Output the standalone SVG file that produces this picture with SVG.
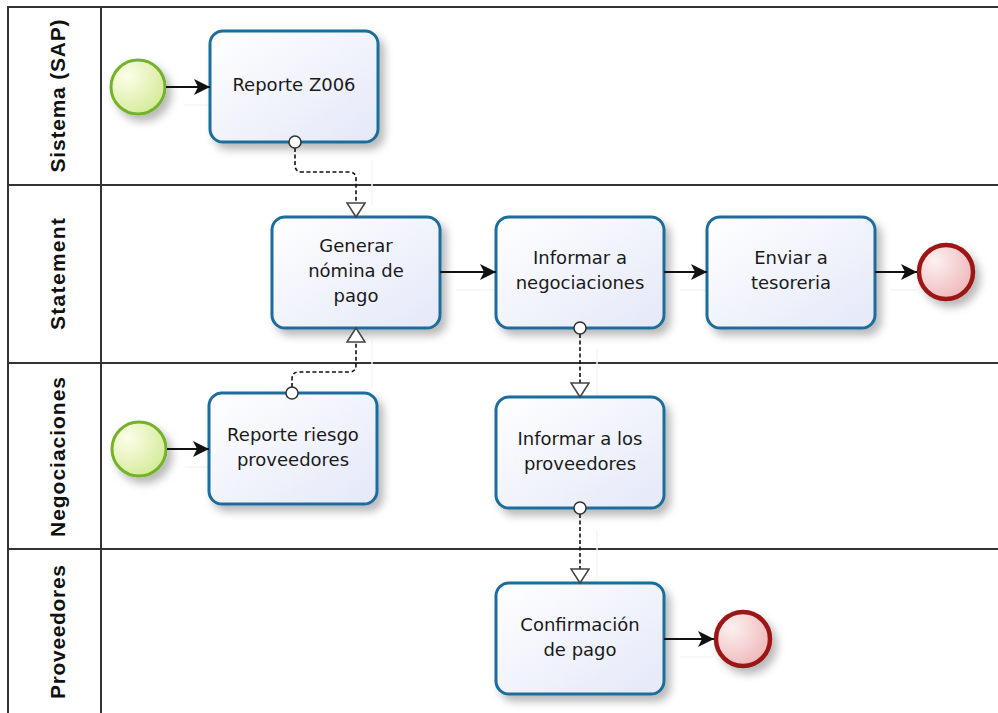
<svg xmlns="http://www.w3.org/2000/svg" width="998" height="713" viewBox="0 0 998 713">
  <defs>
    <style>
      .lane { fill: none; stroke: #333; stroke-width: 2; }
      .lane-label { font-family: "Liberation Sans", Arial, sans-serif; font-weight: bold; font-size: 21px; fill: #111; text-anchor: middle; }
      .task rect { fill: url(#taskFill); stroke: #1d6d9c; stroke-width: 3; }
      .task text { font-family: "DejaVu Sans", Verdana, sans-serif; font-size: 18px; fill: #1a1a1a; text-anchor: middle; }
      .start circle { fill: url(#startFill); stroke: #74b22c; stroke-width: 3; }
      .end circle { fill: url(#endFill); stroke: #9c1515; stroke-width: 4.5; }
      .seq { fill: none; stroke: #111; stroke-width: 1.8; marker-end: url(#seqArrow); }
      .msg { fill: none; stroke: #111; stroke-width: 1.6; stroke-dasharray: 4 2.5; marker-end: url(#msgArrow); }
      .msg-src { fill: #fff; stroke: #333; stroke-width: 1.5; }
      .ghost { fill: none; stroke: #f4f4f4; stroke-width: 1.5; }
    </style>
    <linearGradient id="taskFill" x1="0" y1="0" x2="1" y2="1">
      <stop offset="0" stop-color="#ffffff"/>
      <stop offset="1" stop-color="#e4e8f8"/>
    </linearGradient>
    <radialGradient id="startFill" cx="0.3" cy="0.3" r="0.8">
      <stop offset="0" stop-color="#fcfee8"/>
      <stop offset="1" stop-color="#d3ea96"/>
    </radialGradient>
    <radialGradient id="endFill" cx="0.3" cy="0.3" r="0.8">
      <stop offset="0" stop-color="#fdf0f0"/>
      <stop offset="1" stop-color="#eeb6b8"/>
    </radialGradient>
    <filter id="shadow" x="-20%" y="-20%" width="150%" height="150%">
      <feDropShadow dx="5" dy="6" stdDeviation="4" flood-color="#000" flood-opacity="0.28"/>
    </filter>
    <marker id="seqArrow" markerUnits="userSpaceOnUse" markerWidth="18" markerHeight="18" refX="16" refY="8" orient="auto">
      <path d="M0,0 L16,8 L0,16 L4,8 Z" fill="#111"/>
    </marker>
    <marker id="msgArrow" markerUnits="userSpaceOnUse" markerWidth="22" markerHeight="22" refX="15" refY="10" orient="auto">
      <path d="M1,1 L15,10 L1,19 Z" fill="#fff" stroke="#444" stroke-width="1.5"/>
    </marker>
  </defs>

  <rect x="0" y="0" width="998" height="713" fill="#fff"/>

  <!-- pool and lanes -->
  <g id="lanes">
    <path class="lane" d="M8,715 L8,7 L998,7"/>
    <line class="lane" x1="101" y1="7" x2="101" y2="715"/>
    <line class="lane" x1="8" y1="185" x2="998" y2="185"/>
    <line class="lane" x1="8" y1="363" x2="998" y2="363"/>
    <line class="lane" x1="8" y1="549" x2="998" y2="549"/>
    <text class="lane-label" transform="translate(65,96) rotate(-90)" textLength="153" lengthAdjust="spacing">Sistema (SAP)</text>
    <text class="lane-label" transform="translate(65,274) rotate(-90)" textLength="112" lengthAdjust="spacing">Statement</text>
    <text class="lane-label" transform="translate(65,457) rotate(-90)" textLength="160" lengthAdjust="spacing">Negociaciones</text>
    <text class="lane-label" transform="translate(65,632) rotate(-90)" textLength="134" lengthAdjust="spacing">Proveedores</text>
  </g>

  <!-- faint connector shadows -->
  <g id="connector-shadows">
    <line class="ghost" x1="184" y1="105" x2="210" y2="105"/>
    <line class="ghost" x1="185" y1="467" x2="209" y2="467"/>
    <line class="ghost" x1="456" y1="290" x2="496" y2="290"/>
    <line class="ghost" x1="680" y1="290" x2="707" y2="290"/>
    <line class="ghost" x1="891" y1="290" x2="917" y2="290"/>
    <line class="ghost" x1="680" y1="657" x2="713" y2="657"/>
    <path class="ghost" d="M372,160 L372,205"/>
    <path class="ghost" d="M372,340 L372,388"/>
    <path class="ghost" d="M597,350 L597,395"/>
    <path class="ghost" d="M597,530 L597,580"/>
  </g>

  <!-- start events -->
  <g id="start-sap" class="start" filter="url(#shadow)">
    <circle cx="138" cy="87" r="27"/>
  </g>
  <g id="start-negociaciones" class="start" filter="url(#shadow)">
    <circle cx="139" cy="449" r="27"/>
  </g>

  <!-- tasks -->
  <g id="task-reporte-z006" class="task">
    <rect x="210" y="31" width="168" height="111" rx="13" filter="url(#shadow)"/>
    <text x="294" y="91">Reporte Z006</text>
  </g>
  <g id="task-generar-nomina" class="task">
    <rect x="272" y="217" width="168" height="111" rx="13" filter="url(#shadow)"/>
    <text x="356" y="252">Generar</text>
    <text x="356" y="277">nómina de</text>
    <text x="356" y="302">pago</text>
  </g>
  <g id="task-informar-negociaciones" class="task">
    <rect x="496" y="217" width="168" height="111" rx="13" filter="url(#shadow)"/>
    <text x="580" y="264">Informar a</text>
    <text x="580" y="289">negociaciones</text>
  </g>
  <g id="task-enviar-tesoreria" class="task">
    <rect x="707" y="217" width="168" height="111" rx="13" filter="url(#shadow)"/>
    <text x="791" y="264">Enviar a</text>
    <text x="791" y="289">tesoreria</text>
  </g>
  <g id="task-reporte-riesgo" class="task">
    <rect x="209" y="393" width="168" height="111" rx="13" filter="url(#shadow)"/>
    <text x="293" y="441">Reporte riesgo</text>
    <text x="293" y="466">proveedores</text>
  </g>
  <g id="task-informar-proveedores" class="task">
    <rect x="496" y="397" width="168" height="111" rx="13" filter="url(#shadow)"/>
    <text x="580" y="445">Informar a los</text>
    <text x="580" y="470">proveedores</text>
  </g>
  <g id="task-confirmacion-pago" class="task">
    <rect x="496" y="583" width="168" height="111" rx="13" filter="url(#shadow)"/>
    <text x="580" y="631">Confirmación</text>
    <text x="580" y="656">de pago</text>
  </g>

  <!-- end events -->
  <g id="end-statement" class="end" filter="url(#shadow)">
    <circle cx="946" cy="272" r="27"/>
  </g>
  <g id="end-proveedores" class="end" filter="url(#shadow)">
    <circle cx="743" cy="639" r="27"/>
  </g>

  <!-- connectors -->
  <g id="connectors">
    <!-- sequence flows -->
    <line class="seq" x1="166" y1="87" x2="210" y2="87"/>
    <line class="seq" x1="167" y1="449" x2="209" y2="449"/>
    <line class="seq" x1="440" y1="272" x2="496" y2="272"/>
    <line class="seq" x1="664" y1="272" x2="707" y2="272"/>
    <line class="seq" x1="875" y1="272" x2="917" y2="272"/>
    <line class="seq" x1="664" y1="639" x2="714" y2="639"/>

    <!-- message flows -->
    <path class="msg" d="M295,148 L295,165 Q295,172 302,172 L349,172 Q356,172 356,179 L356,217"/>
    <circle class="msg-src" cx="295" cy="142" r="6"/>
    <path class="msg" d="M292,387 L292,379 Q292,372 299,372 L349,372 Q356,372 356,365 L356,328"/>
    <circle class="msg-src" cx="292" cy="393" r="6"/>
    <path class="msg" d="M580,334 L580,397"/>
    <circle class="msg-src" cx="580" cy="328" r="6"/>
    <path class="msg" d="M580,514 L580,583"/>
    <circle class="msg-src" cx="580" cy="508" r="6"/>
  </g>
</svg>
